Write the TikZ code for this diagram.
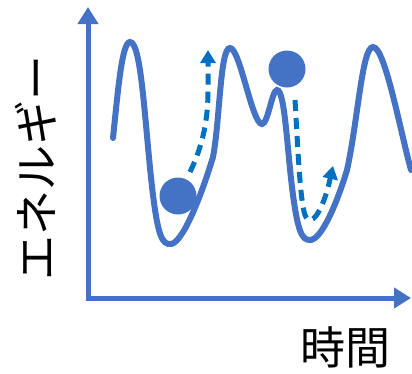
\documentclass[tikz,border=0pt]{standalone}
\usepackage{fontspec}
\newfontfamily\jpfont{Noto Sans CJK JP}
\usetikzlibrary{arrows.meta}
\definecolor{curveblue}{HTML}{4472C4}
\definecolor{dashblue}{HTML}{0070C0}
\tikzset{
  axis/.style={draw=curveblue, line width=5pt, -{Triangle[width=20pt,length=17pt]}},
  energy/.style={draw=curveblue, line width=6pt, line cap=round},
  ball/.style={circle, fill=curveblue, minimum size=37pt, inner sep=0pt},
  move/.style={draw=dashblue, line width=5pt, dash pattern=on 11pt off 7pt, -{Triangle[width=15pt,length=13pt]}},
  lbl/.style={font=\jpfont\fontsize{45}{45}\selectfont, inner sep=0pt}
}
\begin{document}
\begin{tikzpicture}[x=1pt,y=-1pt]
\useasboundingbox (0,0) rectangle (412,373);
\coordinate (o) at (88,298);
\coordinate (ytip) at (88,7);
\coordinate (xtip) at (411,298);
\draw[axis] (o) -- (ytip);
\draw[axis] ([xshift=-2.5pt]o) -- (xtip);
\draw[energy] (113,138) .. controls (118,90) and (122,42) .. (130,42)
  .. controls (142,42) and (145,130) .. (153,195)
  .. controls (158,235) and (162,245) .. (171,244)
  .. controls (182,243) and (200,200) .. (213,157)
  .. controls (220,120) and (220,48) .. (230,48)
  .. controls (240,48) and (252,124) .. (262,124)
  .. controls (268,124) and (272,90) .. (277,90)
  .. controls (285,90) and (287,150) .. (293,195)
  .. controls (298,232) and (302,240) .. (310,240)
  .. controls (322,240) and (338,200) .. (347,170)
  .. controls (358,120) and (362,47) .. (373,47)
  .. controls (385,47) and (400,130) .. (411,170);
\node[ball] (b1) at (178,196) {};
\node[ball] (b2) at (287,69) {};
\coordinate (s1) at (190,172);
\coordinate (e1) at (208,50);
\coordinate (s2) at (295,100);
\coordinate (e2) at (333,166);
\draw[move] (s1) .. controls (203,145) and (208,120) .. (208,90) -- (e1);
\draw[move] (s2) .. controls (298,150) and (300,200) .. (305,215)
  .. controls (310,228) and (322,215) .. (e2);
\node[lbl, rotate=90] (ylab) at (36,168) {エネルギー};
\node[lbl] (xlab) at (345,347) {時間};
\end{tikzpicture}
\end{document}
